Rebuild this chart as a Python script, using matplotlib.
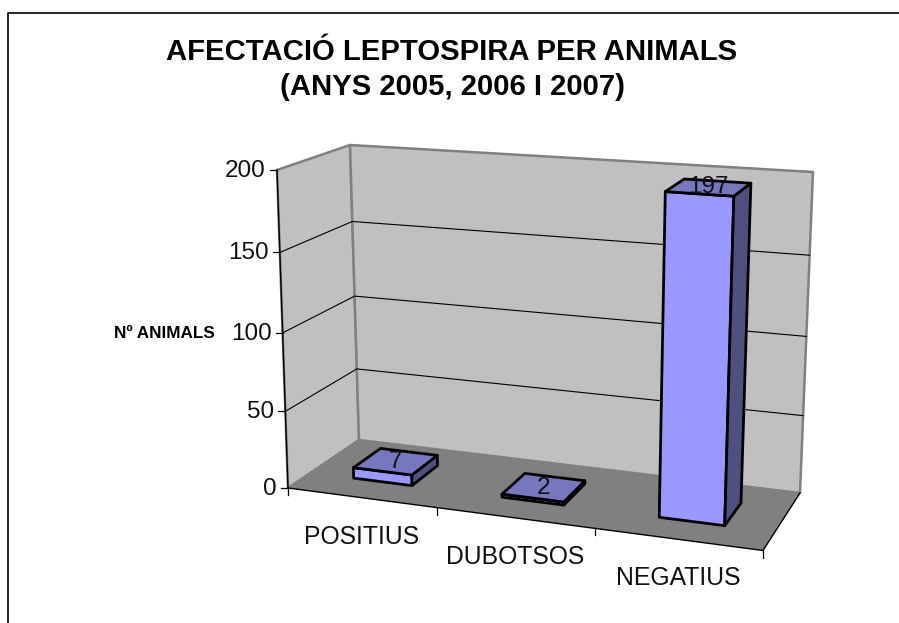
import matplotlib
matplotlib.use("Agg")
import matplotlib.pyplot as plt
import numpy as np

plt.rcParams["font.family"] = ["Liberation Sans", "DejaVu Sans"]

categories = ["POSITIUS", "DUBOTSOS", "NEGATIUS"]
values = [7, 2, 197]
z_ticks = [0, 50, 100, 150, 200]
title = "AFECTACIÓ LEPTOSPIRA PER ANIMALS\n(ANYS 2005, 2006 I 2007)"
z_label = "Nº ANIMALS"

# corners of the 3d box in pixels
FL0, FR0, BL0, BR0 = map(np.array, [(288, 488), (763, 550.5), (359, 440), (800, 493)])
FL1, FR1, BL1, BR1 = map(np.array, [(277, 170), (774, 205), (350, 145), (813, 172)])
ZMAX = 200
GAP = 1.5  # gap width of excel bars
D0, D1 = 0.32, 0.72  # depth of the bars


def warp(t, k):
    # fake perspective
    return t / (1 + k * (1 - t))


def P(x, d, z):
    # x 0-1 across the categories, d 0-1 front to back, z in data units
    x = warp(x, 0.09)
    t = warp(z / ZMAX, 0.05)
    front0 = FL0 + (FR0 - FL0) * x
    back0 = BL0 + (BR0 - BL0) * x
    front1 = FL1 + (FR1 - FL1) * x
    back1 = BL1 + (BR1 - BL1) * x
    low = front0 + (back0 - front0) * d
    high = front1 + (back1 - front1) * d
    return low + (high - low) * t


def poly(ax, pts, fc, ec="black", lw=1.0, z=1):
    ax.fill(*zip(*pts), facecolor=fc, edgecolor=ec, linewidth=lw, zorder=z, joinstyle="round")


fig = plt.figure(figsize=(8.99, 6.23), dpi=100)
ax = fig.add_axes([0, 0, 1, 1])
ax.set_xlim(0, 899)
ax.set_ylim(623, 0)
ax.axis("off")

# chart frame, only left and top are in the picture
ax.plot([8.2, 8.2, 899], [623, 12.5, 12.5], color="black", lw=1.2, zorder=1)

# walls and floor
poly(ax, [P(0, 0, 0), P(0, 1, 0), P(0, 1, ZMAX), P(0, 0, ZMAX)], "#c0c0c0", "#808080", 1.8)
poly(ax, [P(0, 1, 0), P(1, 1, 0), P(1, 1, ZMAX), P(0, 1, ZMAX)], "#c0c0c0", "#808080", 1.8)

for v in z_ticks[1:-1]:
    ax.plot(*zip(P(0, 0, v), P(0, 1, v), P(1, 1, v)), color="black", lw=0.8, zorder=2)

poly(ax, [P(0, 0, 0), P(1, 0, 0), P(1, 1, 0), P(0, 1, 0)], "#808080", "none", 0, 3)
ax.plot(*zip(P(0, 0, 0), P(1, 0, 0), P(1, 1, 0)), color="black", lw=1.0, zorder=4)
ax.plot(*zip(P(0, 0, 0), P(0, 0, ZMAX)), color="black", lw=1.0, zorder=4)

# z axis ticks and labels
for v in z_ticks:
    px, py = P(0, 0, v)
    ax.plot([px - 7, px], [py, py], color="black", lw=0.9, zorder=4)
    ax.text(px - 11, py + 1, str(v), ha="right", va="center", fontsize=17.5, color="#111111", zorder=6)

# category ticks and labels
n = len(categories)
for i in range(n + 1):
    px, py = P(i / n, 0, 0)
    ax.plot([px, px], [py, py + 7], color="black", lw=0.9, zorder=4)
for i, c in enumerate(categories):
    px, py = P((i + 0.5) / n, 0, 0)
    ax.text(px, py + 39, c, ha="center", va="center", fontsize=17.8, color="#111111", zorder=6)

# bars
bar_w = 1 / n / (1 + GAP)
for i, v in enumerate(values):
    x0 = (i + 0.5) / n - bar_w / 2
    x1 = x0 + bar_w
    poly(ax, [P(x0, D0, 0), P(x1, D0, 0), P(x1, D0, v), P(x0, D0, v)], "#9999ff", "black", 2.0, 5)
    poly(ax, [P(x1, D0, 0), P(x1, D1, 0), P(x1, D1, v), P(x1, D0, v)], "#4f4f80", "black", 2.0, 5)
    poly(ax, [P(x0, D0, v), P(x1, D0, v), P(x1, D1, v), P(x0, D1, v)], "#7777c0", "black", 2.0, 5)
    px, py = P((x0 + x1) / 2, (D0 + D1) / 2, v)
    ax.text(px, py, str(v), ha="center", va="center", fontsize=17.5, color="#111111", zorder=7)

ax.text(452, 69.5, title, ha="center", va="center", fontsize=21.1, fontweight="bold",
        linespacing=1.36, zorder=6)
ax.text(164, 334, z_label, ha="center", va="center", fontsize=12.3, fontweight="bold", zorder=6)

fig.savefig("out.png", dpi=100)
